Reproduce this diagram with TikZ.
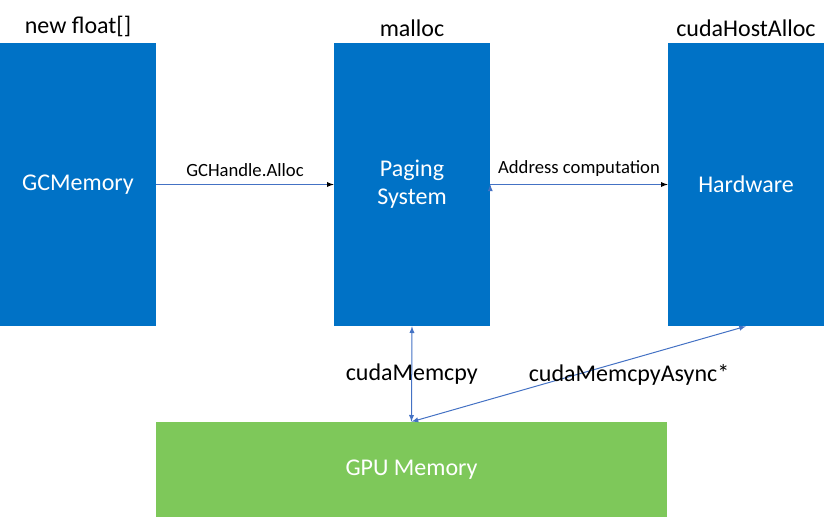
\documentclass[tikz,border=0pt]{standalone}
\usepackage{fontspec}
\setmainfont{Carlito}
\usetikzlibrary{arrows}
\definecolor{boxblue}{RGB}{0,114,198}
\definecolor{boxgreen}{RGB}{126,200,90}
\definecolor{linkblue}{RGB}{68,114,196}

\begin{document}
\begin{tikzpicture}[x=0.75pt,y=-0.75pt,
    memblock/.style={fill=boxblue,text=white,inner sep=0pt,minimum width=117pt,
      minimum height=212.25pt,align=center,font=\fontsize{18}{21}\selectfont},
    gpublock/.style={fill=boxgreen,text=white,inner sep=0pt,minimum width=383.25pt,
      minimum height=71.25pt,font=\fontsize{18}{21}\selectfont},
    toplabel/.style={above=1pt,font=\fontsize{18}{21}\selectfont},
    link/.style={draw=linkblue,line width=0.75pt},
    linklabel/.style={font=\fontsize{14}{17}\selectfont}]
  \useasboundingbox (0,0) rectangle (833,518);
  \node[memblock] (gc) at (78,184.5) {GCMemory};
  \node[memblock] (paging) at (412,184.5) {Paging\\System};
  \node[memblock] (hw) at (746,184.5) {Hardware};
  \node[gpublock] (gpu) at (411.5,469.5) {GPU Memory};
  \node[toplabel] (gclabel) at (gc.north) {new float[]};
  \node[toplabel] (paginglabel) at (paging.north) {malloc};
  \node[toplabel] (hwlabel) at (hw.north) {cudaHostAlloc};
  \path[link,-latex]
    (gc.east) edge node [linklabel,above=2pt] {GCHandle.Alloc} (paging.west)
    (paging.east) edge node [linklabel,above=2pt] {Address computation} (hw.west);
  \draw[link,latex-latex] (paging.south) -- node [font=\fontsize{18}{21}\selectfont] {cudaMemcpy} (gpu.north);
  \draw[link,latex-latex] (gpu.north) -- (hw.south);
  \node[font=\fontsize{18}{21}\selectfont] (asynclabel) at (629,375) {cudaMemcpyAsync*};
\end{tikzpicture}
\end{document}
